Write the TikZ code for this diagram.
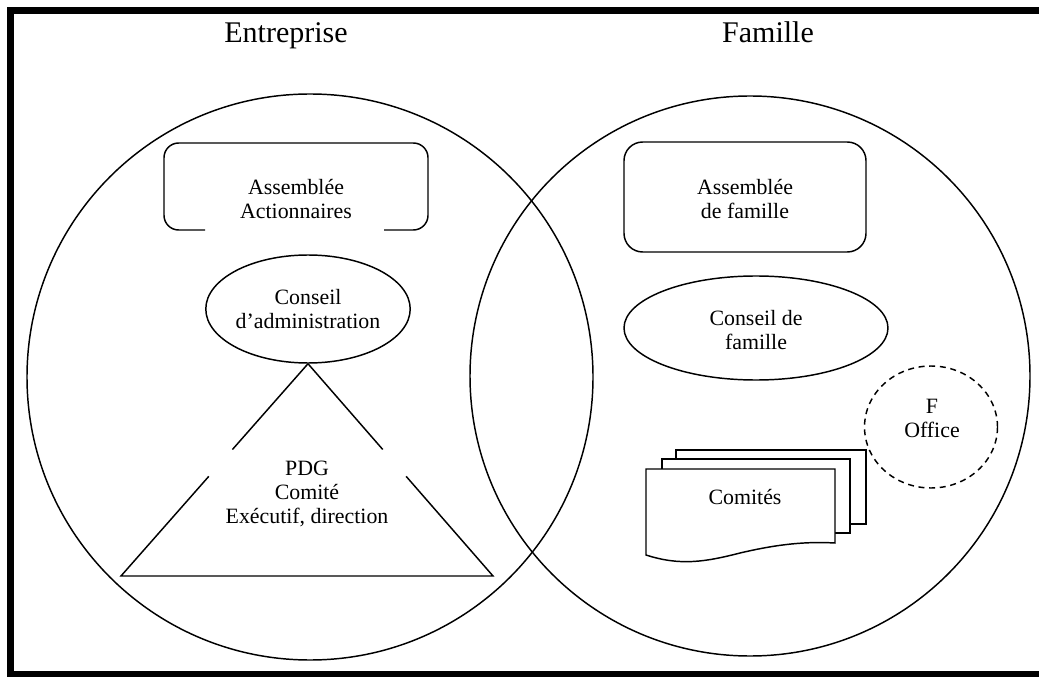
\documentclass[tikz,border=0pt]{standalone}
\usepackage{fontspec}
\setmainfont{Liberation Serif}
\usetikzlibrary{shapes.geometric,calc}
\begin{document}
\begin{tikzpicture}[x=0.75pt,y=-0.75pt,
  lbl/.style={align=center, font=\fontsize{16.4}{18}\selectfont, inner sep=0pt},
  ttl/.style={font=\fontsize{22.5}{26}\selectfont, inner sep=0pt, anchor=base},
  ln/.style={line width=1.1pt},
  big/.style={ln, draw, circle, inner sep=0pt},
  oval/.style={ln, draw, ellipse, inner sep=0pt, align=center, font=\fontsize{16.4}{18}\selectfont},
  docshape/.style={ln, draw, fill=white}]
\useasboundingbox (0,0) rectangle (1039,677);
\draw[line width=4.6pt] (1039,10.5) -- (10.5,10.5) -- (10.5,674.5) -- (1039,674.5);
% titles
\node[ttl] (tE) at (286,43) {Entreprise};
\node[ttl] (tF) at (768,43) {Famille};
% big circles
\node[big, minimum size={566*0.75pt}] (cE) at (310,377) {};
\node[big, minimum size={560*0.75pt}] (cF) at (750,376) {};
% Assemblee Actionnaires (open bottom)
\draw[ln, rounded corners=11pt] (205,230) -- (164,230) -- (164,143) -- (428,143) -- (428,230) -- (384,230);
\node[lbl] (aa) at (296,199.5) {Assemblée\\Actionnaires};
% Conseil d'administration
\node[oval, minimum width={186*0.75pt}, minimum height={108*0.75pt}] (ca) at (308,309) {Conseil\\d’administration};
% triangle
\coordinate (ap) at (ca.south);
\coordinate (bl) at (121,576);
\coordinate (br) at (493,576);
\draw[ln] (ap) -- ($(ap)!0.404!(bl)$);
\draw[ln] ($(ap)!0.5305!(bl)$) -- (bl) -- (br) -- ($(ap)!0.5305!(br)$);
\draw[ln] ($(ap)!0.404!(br)$) -- (ap);
\node[lbl] (pdg) at (307,494) {PDG\\Comité\\Exécutif, direction};
% Assemblee de famille
\node[ln, draw, rounded corners=14pt, minimum width={242*0.75pt}, minimum height={110*0.75pt}] (af) at (745,197) {};
\node[lbl] (aft) at (745,199.5) {Assemblée\\de famille};
% Conseil de famille
\node[oval, minimum width={264*0.75pt}, minimum height={104*0.75pt}] (cf) at (756,328) {};
\node[lbl] (cft) at (756,330) {Conseil de\\famille};
% F Office
\node[ln, draw, ellipse, inner sep=0pt, dash pattern=on 4.5pt off 3.5pt, minimum width={133*0.75pt}, minimum height={122*0.75pt}] (fo) at (931,427) {};
\node[lbl] (fot) at (932,418) {F\\Office};
% Comites stack
\draw[docshape] (676,524) -- (676,450) -- (866,450) -- (866,524) -- cycle;
\draw[docshape] (662,533) -- (662,459) -- (850,459) -- (850,533) -- cycle;
\draw[docshape] (646,555) -- (646,469) -- (835,469) -- (835,543)
  .. controls (800,541) and (770,546) .. (740,553)
  .. controls (705,562) and (680,566) .. (646,555) -- cycle;
\node[lbl] (com) at (745,497) {Comités};
\end{tikzpicture}
\end{document}
